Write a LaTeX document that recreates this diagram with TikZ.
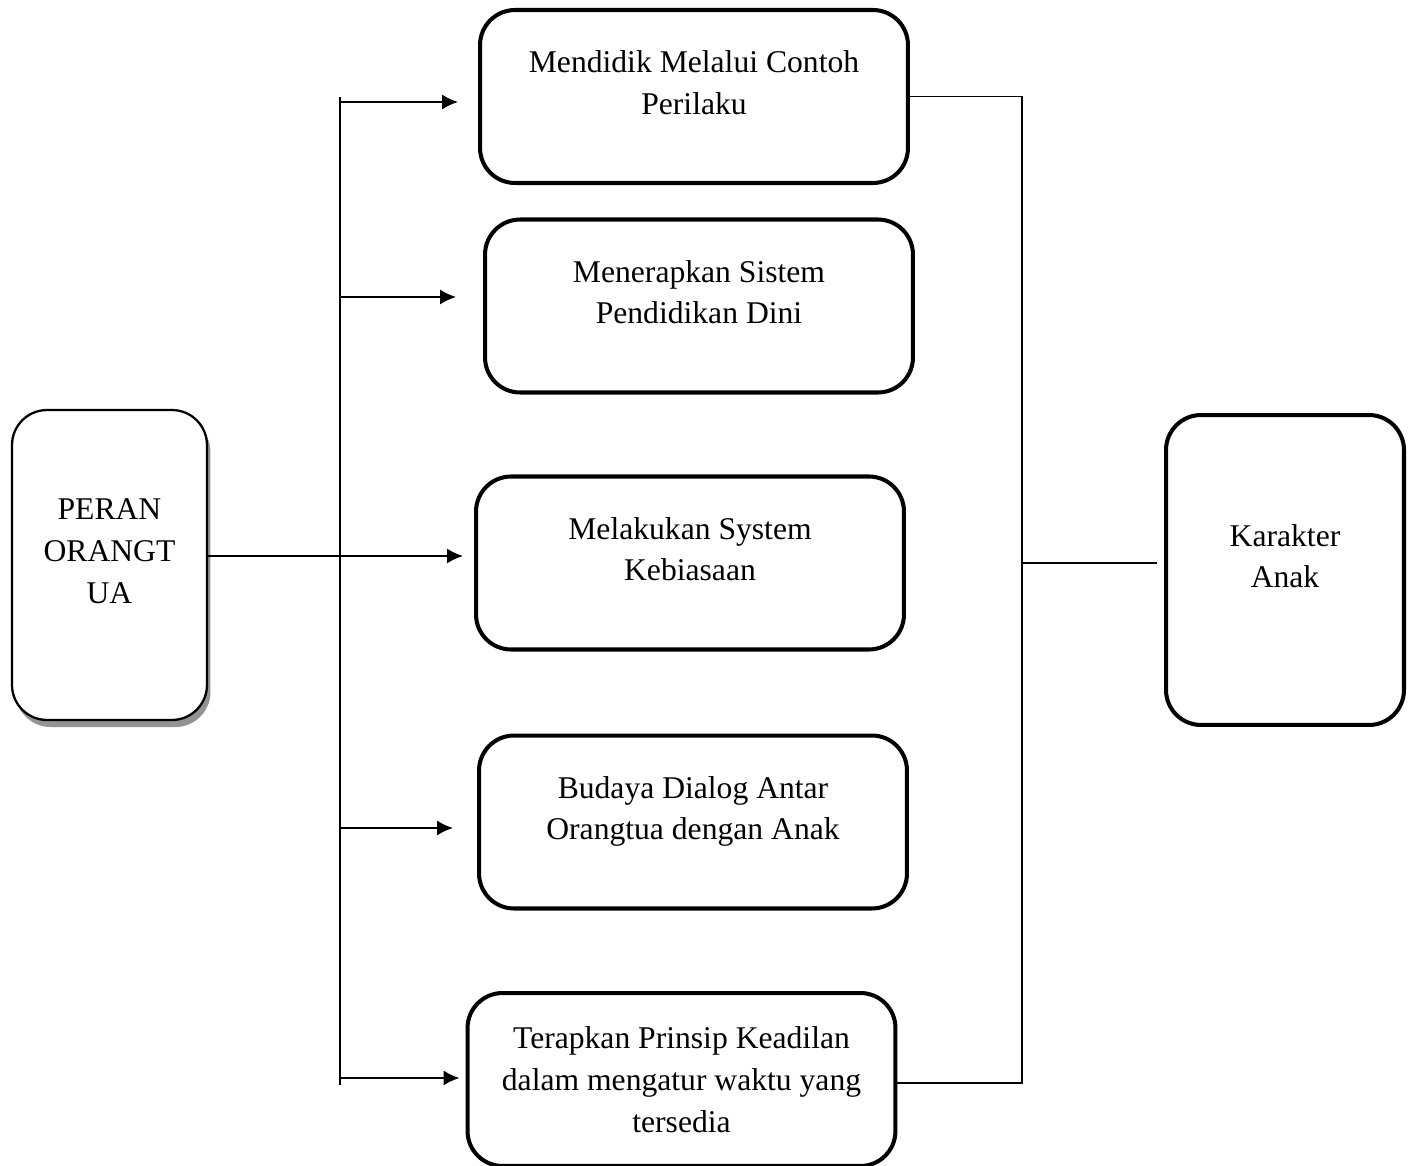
\documentclass[tikz,border=0pt]{standalone}
\usepackage{fontspec}
\setmainfont{Liberation Serif}
\usepackage{tikz}
\usetikzlibrary{positioning,shadows,arrows.meta}

\begin{document}
\begin{tikzpicture}[
      x=0.02cm, y=-0.02cm,
      block/.style={rectangle, draw, line width=2.3pt, text centered, align=center, rounded corners=0.7cm, minimum width=8.56cm, minimum height=3.46cm, font=\fontsize{18}{23.8}\selectfont},
      lifted/.style={text depth=16pt},
      side/.style={block, minimum width=4.76cm, minimum height=6.2cm},
      line/.style={draw, line width=1.1pt},
      arrow/.style={line, -{Latex[length=9pt,width=8.5pt]}}
    ]
    \useasboundingbox (0,0) rectangle (1414,1166);

    \node [side, lifted, line width=1.3pt, minimum width=3.9cm, fill=white, drop shadow={shadow xshift=2pt, shadow yshift=-4pt, opacity=0.85}] (peran) at (109.5,565) {PERAN\\ORANGT\\UA};
    \node [block, lifted] (contoh) at (694,96.5) {Mendidik Melalui Contoh\\Perilaku};
    \node [block, lifted] (dini) at (699,306) {Menerapkan Sistem\\Pendidikan Dini};
    \node [block, lifted] (kebiasaan) at (690,563) {Melakukan System\\Kebiasaan};
    \node [block, lifted] (dialog) at (693,822) {Budaya Dialog Antar\\Orangtua dengan Anak};
    \node [block] (keadilan) at (681.5,1079.5) {Terapkan Prinsip Keadilan\\dalam mengatur waktu yang\\tersedia};
    \node [side, lifted] (karakter) at (1285,570) {Karakter\\Anak};

    % left trunk
    \coordinate (ltop) at (340,97);
    \coordinate (lbot) at (340,1085);
    \coordinate (j1) at (340,102);
    \coordinate (j2) at (340,297);
    \coordinate (j3) at (340,556);
    \coordinate (j4) at (340,828);
    \coordinate (j5) at (340,1078);
    \path [line] (ltop) -- (lbot);
    \path [line] (j3 -| peran.east) -- (j3);
    \path [arrow, shorten >=0.4cm] (j1) -- (j1 -| contoh.west);
    \path [arrow, shorten >=0.54cm] (j2) -- (j2 -| dini.west);
    \path [arrow, shorten >=0.22cm] (j3) -- (j3 -| kebiasaan.west);
    \path [arrow, shorten >=0.48cm] (j4) -- (j4 -| dialog.west);
    \path [arrow, shorten >=0.12cm] (j5) -- (j5 -| keadilan.west);

    % right trunk
    \coordinate (rbot) at (1022,1083);
    \coordinate (rmid) at (1022,563);
    \path [line] (contoh.east) -| (rbot) -- (rbot -| keadilan.east);
    \path [line, shorten >=4pt] (rmid) -- (rmid -| karakter.west);

    \end{tikzpicture}
\end{document}
